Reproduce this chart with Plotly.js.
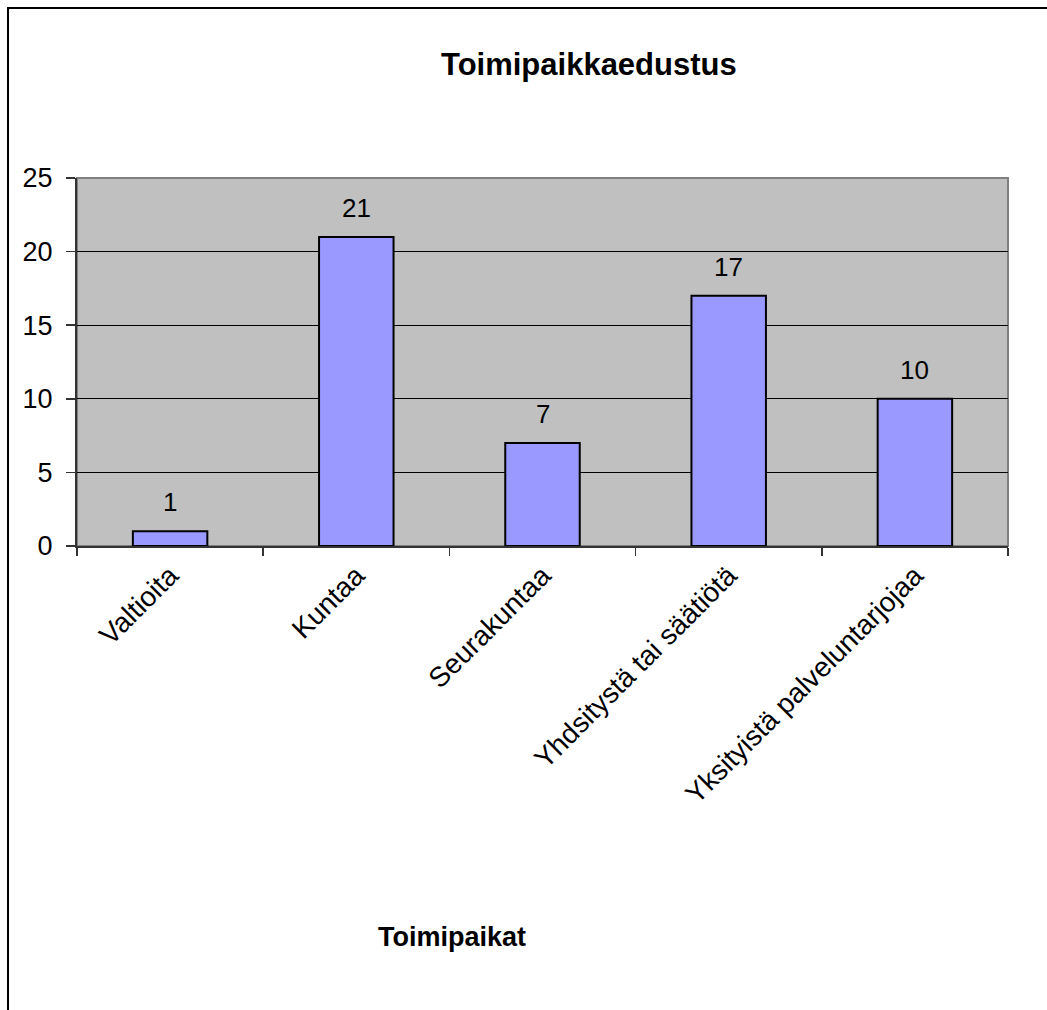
<!DOCTYPE html>
<html>
<head>
<meta charset="utf-8">
<script src="https://cdn.plot.ly/plotly-3.0.1.min.js"></script>
<style>html,body{margin:0;padding:0;background:#fff;}#chart{width:1047px;height:1010px;}</style>
</head>
<body>
<div id="chart"></div>
<script>
const categories = ["Valtioita", "Kuntaa", "Seurakuntaa", "Yhdsitystä tai säätiötä", "Yksityistä palveluntarjojaa"];
const values = [1, 21, 7, 17, 10];
const yTicks = [0, 5, 10, 15, 20, 25];

const font = "Liberation Sans, Arial, sans-serif";

const trace = {
  type: "bar",
  x: categories,
  y: values,
  width: 0.4,
  marker: {color: "#9999FF", line: {color: "#000000", width: 2}},
  hoverinfo: "skip"
};

const labelAnn = categories.map((c, i) => ({
  x: c, y: values[i], xref: "x", yref: "y",
  text: String(values[i]), showarrow: false,
  yanchor: "bottom", yshift: 12,
  font: {family: font, size: 26, color: "#000"}
}));

const layout = {
  width: 1047, height: 1010,
  margin: {l: 77, r: 39, t: 178, b: 464, pad: 0},
  paper_bgcolor: "#ffffff",
  plot_bgcolor: "#C0C0C0",
  showlegend: false,
  bargap: 0.6,
  xaxis: {
    type: "category",
    tickson: "boundaries",
    ticks: "outside", ticklen: 8, tickcolor: "#333", tickwidth: 1.5,
    showgrid: false,
    showline: true, linecolor: "#333", linewidth: 2,
    tickangle: -45,
    tickfont: {family: font, size: 28, color: "#000"},
    fixedrange: true
  },
  yaxis: {
    range: [0, 25],
    tickvals: yTicks,
    ticktext: yTicks.map(String),
    ticks: "outside", ticklen: 9, tickcolor: "#333", tickwidth: 1.5,
    ticklabelstandoff: 8,
    showgrid: true, gridcolor: "#000", gridwidth: 1,
    showline: true, linecolor: "#333", linewidth: 2,
    zeroline: false,
    tickfont: {family: font, size: 27, color: "#000"},
    fixedrange: true
  },
  shapes: [
    {type: "rect", xref: "paper", yref: "paper", x0: 0, x1: 1, y0: 0, y1: 1,
     line: {color: "#808080", width: 2}, fillcolor: "rgba(0,0,0,0)", layer: "below"},
    {type: "path", xref: "paper", yref: "paper",
     path: "M -0.0741,-1.4 L -0.0741,1.462 L 1.2,1.462",
     line: {color: "#000", width: 2}}
  ],
  annotations: labelAnn.concat([
    {xref: "paper", yref: "paper", x: (589 - 77) / 931, y: (546 - 64) / 368,
     text: "<b>Toimipaikkaedustus</b>", showarrow: false, xanchor: "center", yanchor: "middle",
     font: {family: font, size: 31, color: "#000"}},
    {xref: "paper", yref: "paper", x: (452 - 77) / 931, y: (546 - 937) / 368,
     text: "<b>Toimipaikat</b>", showarrow: false, xanchor: "center", yanchor: "middle",
     font: {family: font, size: 27, color: "#000"}}
  ])
};

Plotly.newPlot("chart", [trace], layout, {displayModeBar: false, staticPlot: true});
</script>
</body>
</html>
